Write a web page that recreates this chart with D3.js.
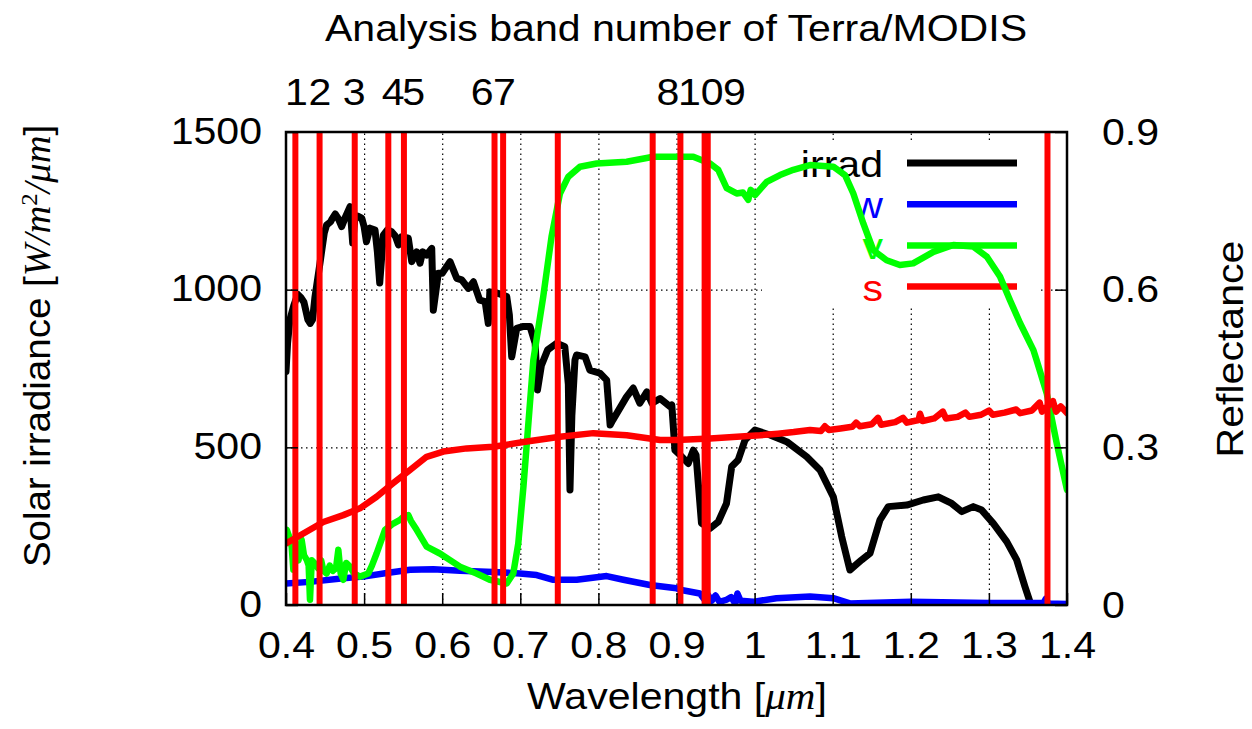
<!DOCTYPE html>
<html>
<head>
<meta charset="utf-8">
<script src="https://cdn.jsdelivr.net/npm/d3@7"></script>
<style>
  body { margin: 0; background: #fff; }
  svg { display: block; font-family: "Liberation Sans", Arial, sans-serif; }
  .grid line { stroke: #000; stroke-width: 1.2; stroke-dasharray: 1.5,3.5; }
  .grid path { display: none; }
</style>
</head>
<body>
<div id="chart"></div>
<script>
//Chart data

	//x ticks and band labels on top
	var xTicks = [0.4, 0.5, 0.6, 0.7, 0.8, 0.9, 1.0, 1.1, 1.2, 1.3, 1.4];
	var yLeftTicks = [0, 500, 1000, 1500];
	var yRightTicks = [0, 0.3, 0.6, 0.9];
	var bandLabels = ["1", "2", "3", "4", "5", "6", "7", "8", "10", "9"];
	var bandLabelPos = [0.4128, 0.4428, 0.4867, 0.5367, 0.5627, 0.6504, 0.6791, 0.8885, 0.9305, 0.9735];
	//MODIS band centres drawn as red vertical lines
	var bandLines = [0.412, 0.443, 0.488, 0.531, 0.551, 0.667, 0.678, 0.748, 0.8695, 0.905, 0.936, 0.940, 1.375];

	//Solar irradiance [W/m2/um]
	var irradWl = [0.400,0.402,0.405,0.410,0.415,0.419,0.423,0.428,0.431,0.434,0.437,0.4435,0.449,0.452,0.457,0.4585,0.463,0.467,0.4713,0.476,0.482,0.4854,0.488,0.492,0.497,0.500,0.503,0.5075,0.514,0.517,0.520,0.5246,0.530,0.535,0.540,0.544,0.548,0.5566,0.561,0.5673,0.5716,0.575,0.580,0.5866,0.5886,0.595,0.600,0.610,0.6186,0.625,0.6334,0.640,0.648,0.655,0.659,0.661,0.672,0.6826,0.686,0.689,0.6954,0.703,0.7124,0.719,0.722,0.727,0.735,0.7466,0.757,0.7615,0.7636,0.766,0.770,0.772,0.783,0.789,0.802,0.8106,0.815,0.8186,0.836,0.8446,0.853,0.862,0.8686,0.879,0.892,0.894,0.898,0.9045,0.915,0.9215,0.925,0.932,0.943,0.9535,0.964,0.9707,0.979,0.9877,1.0005,1.0197,1.0411,1.0667,1.0837,1.1008,1.1115,1.122,1.137,1.1478,1.1606,1.1712,1.1948,1.216,1.2352,1.2524,1.2652,1.280,1.2908,1.3056,1.3228,1.3356,1.3462,1.3526,1.360,1.400];
	var irradVal = [740,830,905,950,985,975,960,905,893,905,975,1084,1180,1205,1215,1222,1240,1225,1200,1230,1263,1148,1221,1233,1227,1200,1152,1195,1189,1120,1021,1173,1190,1184,1170,1142,1168,1163,1089,1120,1084,1120,1110,1131,935,1052,1052,1089,1036,1031,1004,1025,967,962,893,993,988,978,920,787,877,883,883,830,682,760,809,830,819,700,365,600,777,793,787,745,735,713,571,587,660,688,640,676,640,655,629,634,491,476,449,491,476,259,243,264,322,439,460,523,555,539,518,470,428,343,217,111,143,164,270,312,317,333,343,322,296,312,301,259,201,143,58,10,0,0];

	//Reflectance of water (w)
	var waterWl = [0.400,0.4307,0.4734,0.499,0.529,0.5588,0.5886,0.6228,0.6654,0.6996,0.721,0.7423,0.7722,0.8106,0.832,0.866,0.900,0.9045,0.930,0.936,0.940,0.945,0.950,0.955,0.964,0.970,0.975,0.978,0.982,0.998,1.028,1.071,1.1008,1.122,1.200,1.300,1.370,1.373,1.376,1.400];
	var waterVal = [0.041,0.044,0.051,0.054,0.061,0.067,0.068,0.065,0.063,0.060,0.057,0.048,0.048,0.055,0.048,0.038,0.032,0.029,0.022,0.010,0.020,0.008,0.018,0.006,0.010,0.015,0.003,0.022,0.008,0.006,0.013,0.016,0.013,0.003,0.006,0.004,0.004,0.012,0.003,0.002];

	//Reflectance of vegetation (v)
	var vegWl = [0.400,0.401,0.404,0.4073,0.4094,0.412,0.416,0.420,0.423,0.4265,0.429,0.4307,0.433,0.4371,0.441,0.445,0.448,0.452,0.456,0.460,0.464,0.467,0.470,0.4734,0.477,0.482,0.487,0.4947,0.5054,0.510,0.516,0.5268,0.5374,0.546,0.552,0.5566,0.560,0.5673,0.5801,0.597,0.6228,0.644,0.661,0.6826,0.691,0.6974,0.704,0.710,0.7167,0.7294,0.740,0.7508,0.7615,0.7764,0.7978,0.8362,0.8703,0.900,0.9215,0.943,0.9535,0.9643,0.977,0.985,0.9919,0.995,1.0005,1.0155,1.0325,1.0496,1.0709,1.1008,1.1158,1.1264,1.1392,1.152,1.169,1.186,1.203,1.229,1.2545,1.280,1.2972,1.3142,1.327,1.340,1.357,1.361,1.374,1.3868,1.400];
	var vegVal = [0.125,0.143,0.130,0.111,0.067,0.110,0.085,0.124,0.095,0.086,0.075,0.010,0.085,0.079,0.070,0.085,0.065,0.060,0.075,0.065,0.070,0.105,0.060,0.048,0.080,0.073,0.060,0.054,0.060,0.075,0.098,0.143,0.155,0.162,0.170,0.171,0.160,0.143,0.111,0.098,0.073,0.060,0.048,0.041,0.060,0.117,0.225,0.339,0.466,0.587,0.701,0.783,0.815,0.834,0.840,0.8435,0.853,0.853,0.853,0.840,0.828,0.793,0.783,0.785,0.771,0.790,0.780,0.805,0.818,0.828,0.837,0.834,0.818,0.783,0.726,0.675,0.656,0.647,0.650,0.672,0.685,0.682,0.663,0.625,0.580,0.536,0.485,0.466,0.403,0.308,0.219];

	//Reflectance of soil (s)
	var soilWl = [0.400,0.4222,0.4478,0.4734,0.4947,0.516,0.5374,0.5588,0.580,0.6014,0.6314,0.6654,0.7082,0.7508,0.7935,0.8362,0.879,0.900,0.943,1.007,1.030,1.050,1.071,1.085,1.090,1.095,1.110,1.125,1.130,1.135,1.150,1.158,1.162,1.180,1.190,1.195,1.210,1.2118,1.215,1.230,1.241,1.245,1.260,1.270,1.275,1.290,1.300,1.305,1.320,1.335,1.340,1.355,1.365,1.368,1.375,1.382,1.386,1.392,1.400];
	var soilVal = [0.117,0.136,0.158,0.171,0.184,0.206,0.232,0.257,0.282,0.292,0.298,0.301,0.311,0.320,0.327,0.323,0.314,0.314,0.317,0.323,0.326,0.329,0.333,0.331,0.340,0.333,0.336,0.339,0.347,0.340,0.344,0.356,0.343,0.348,0.356,0.347,0.352,0.364,0.350,0.355,0.368,0.355,0.358,0.366,0.358,0.362,0.370,0.362,0.366,0.372,0.365,0.370,0.385,0.368,0.378,0.388,0.368,0.378,0.365];

//Canvas
	var W = 1252, H = 729;
	var margin = {top: 132, right: 185, bottom: 124, left: 286},
		w = W - margin.left - margin.right,
		h = H - margin.top - margin.bottom;
	var fs = 37, sx = 1.11;

	var svg = d3.select("#chart").append("svg")
		.attr("width", W)
		.attr("height", H);

	var g = svg.append("g")
		.attr("transform", "translate(" + margin.left + "," + margin.top + ")");

	//Scales
	var x = d3.scaleLinear().domain([0.4, 1.4]).range([0, w]);
	var yL = d3.scaleLinear().domain([0, 1500]).range([h, 0]);
	var yR = d3.scaleLinear().domain([0, 0.9]).range([h, 0]);

//Grid
	g.append("g")
		.attr("class", "grid")
		.attr("transform", "translate(0," + h + ")")
		.call(d3.axisBottom(x).tickValues(xTicks.slice(1, -1)).tickSize(-h).tickFormat(""));
	g.append("g")
		.attr("class", "grid")
		.call(d3.axisLeft(yL).tickValues([500, 1000]).tickSize(-w).tickFormat(""));

	//Key box hides the grid behind it
	g.append("rect")
		.attr("x", 476).attr("y", 10)
		.attr("width", 278).attr("height", 166)
		.attr("fill", "#fff");

//Key
	var keyItems = [
		{name: "irrad", color: "#000000", lw: 7},
		{name: "w", color: "#0000ff", lw: 6.5},
		{name: "v", color: "#00ff00", lw: 6.5},
		{name: "s", color: "#ff0000", lw: 6.5}
	];
	var key = g.append("g").attr("class", "key");
	keyItems.forEach(function(k, i) {
		var ky = 31 + i * 41.2;
		key.append("text")
			.attr("transform", "translate(597," + (ky + 14) + ") scale(" + sx + ",1)")
			.attr("text-anchor", "end")
			.attr("font-size", fs)
			.attr("fill", k.color)
			.text(k.name);
		key.append("line")
			.attr("x1", 621).attr("x2", 731)
			.attr("y1", ky).attr("y2", ky)
			.attr("stroke", k.color)
			.attr("stroke-width", k.lw);
	});

//Curves
	var clip = g.append("clipPath").attr("id", "plot-clip")
		.append("rect").attr("width", w).attr("height", h);
	var plot = g.append("g").attr("clip-path", "url(#plot-clip)");

	function drawSeries(wl, val, yScale, color, lw) {
		var line = d3.line()
			.x(function(d) { return x(d[0]); })
			.y(function(d) { return yScale(d[1]); });
		plot.append("path")
			.datum(d3.zip(wl, val))
			.attr("d", line)
			.attr("fill", "none")
			.attr("stroke", color)
			.attr("stroke-width", lw)
			.attr("stroke-linejoin", "round")
			.attr("stroke-linecap", "round");
	}

	drawSeries(irradWl, irradVal, yL, "#000000", 7);
	drawSeries(waterWl, waterVal, yR, "#0000ff", 6.5);
	drawSeries(vegWl, vegVal, yR, "#00ff00", 6.5);
	drawSeries(soilWl, soilVal, yR, "#ff0000", 6.5);

	//Band lines
	g.append("g")
		.selectAll("line")
		.data(bandLines)
		.enter()
		.append("line")
		.attr("x1", function(d) { return x(d); })
		.attr("x2", function(d) { return x(d); })
		.attr("y1", 0).attr("y2", h)
		.attr("stroke", "#ff0000")
		.attr("stroke-width", 6);

//Axes
	function styleAxis(sel) {
		sel.select(".domain").remove();
		sel.selectAll(".tick line").attr("stroke", "#000").attr("stroke-width", 1.5);
		sel.selectAll("text")
			.attr("font-size", fs)
			.attr("font-family", "Liberation Sans, Arial, sans-serif")
			.attr("fill", "#000");
	}

	var xAxis = g.append("g")
		.attr("transform", "translate(0," + h + ")")
		.call(d3.axisBottom(x).tickValues(xTicks).tickSizeInner(-12).tickSizeOuter(0)
			.tickPadding(27).tickFormat(d3.format("~g")));
	styleAxis(xAxis);
	xAxis.selectAll("text").attr("transform", "scale(" + sx + ",1)");

	var yAxisL = g.append("g")
		.call(d3.axisLeft(yL).tickValues(yLeftTicks).tickSizeInner(-12).tickSizeOuter(0)
			.tickPadding(0).tickFormat(d3.format("d")));
	styleAxis(yAxisL);
	yAxisL.selectAll("text").attr("x", null).attr("dy", null)
		.attr("transform", "translate(-24,11) scale(" + sx + ",1)");

	var yAxisR = g.append("g")
		.attr("transform", "translate(" + w + ",0)")
		.call(d3.axisRight(yR).tickValues(yRightTicks).tickSizeInner(-12).tickSizeOuter(0)
			.tickPadding(0).tickFormat(d3.format("~g")));
	styleAxis(yAxisR);
	yAxisR.selectAll("text").attr("x", null).attr("dy", null)
		.attr("transform", "translate(35,12) scale(" + sx + ",1)");

	var x2Axis = g.append("g")
		.call(d3.axisTop(x).tickValues(bandLabelPos).tickSize(0).tickPadding(27)
			.tickFormat(function(d, i) { return bandLabels[i]; }));
	styleAxis(x2Axis);
	x2Axis.selectAll(".tick line").remove();
	x2Axis.selectAll("text").attr("transform", "scale(" + sx + ",1)");

	//Frame
	g.append("rect")
		.attr("width", w).attr("height", h)
		.attr("fill", "none")
		.attr("stroke", "#000")
		.attr("stroke-width", 2.5);

//Titles
	svg.append("text")
		.attr("transform", "translate(676,41) scale(" + sx + ",1)")
		.attr("text-anchor", "middle")
		.attr("font-size", fs)
		.text("Analysis band number of Terra/MODIS");

	var xl = svg.append("text")
		.attr("transform", "translate(677,709) scale(" + sx + ",1)")
		.attr("text-anchor", "middle")
		.attr("font-size", fs);
	xl.append("tspan").text("Wavelength [");
	xl.append("tspan").attr("font-family", "Liberation Serif, serif").attr("font-style", "italic").text("\u03bcm");
	xl.append("tspan").text("]");

	var yl = svg.append("text")
		.attr("transform", "translate(50,346) rotate(-90) scale(1.04,1)")
		.attr("text-anchor", "middle")
		.attr("font-size", fs);
	yl.append("tspan").text("Solar irradiance [");
	yl.append("tspan").attr("font-family", "Liberation Serif, serif").attr("font-style", "italic").text("W/m");
	yl.append("tspan").attr("font-family", "Liberation Serif, serif").attr("font-size", 24).attr("dy", -13).text("2");
	yl.append("tspan").attr("font-family", "Liberation Serif, serif").attr("font-style", "italic").attr("dy", 13).text("/\u03bcm");
	yl.append("tspan").text("]");

	svg.append("text")
		.attr("transform", "translate(1243,349) rotate(-90) scale(" + sx + ",1)")
		.attr("text-anchor", "middle")
		.attr("font-size", fs)
		.text("Reflectance");
</script>
</body>
</html>
